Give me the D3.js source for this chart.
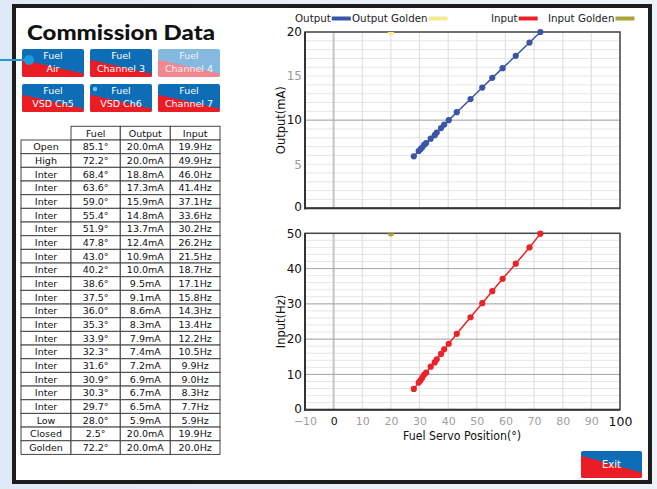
<!DOCTYPE html>
<html>
<head>
<meta charset="utf-8">
<script src="https://cdn.jsdelivr.net/npm/d3@7"></script>
<style>
  html, body { margin: 0; padding: 0; background: #fff; }
  svg { display: block; font-family: "DejaVu Sans", sans-serif; }
</style>
</head>
<body>
<svg width="657" height="489"></svg>
<script>
// ---- data ----
var rowLabels = ["Open","High","Inter","Inter","Inter","Inter","Inter","Inter","Inter","Inter","Inter","Inter",
                 "Inter","Inter","Inter","Inter","Inter","Inter","Inter","Inter","Low","Closed","Golden"];
var fuelPos  = [85.1,72.2,68.4,63.6,59.0,55.4,51.9,47.8,43.0,40.2,38.6,37.5,36.0,35.3,33.9,32.3,31.6,30.9,30.3,29.7,28.0,2.5,72.2];
var outputMA = [20.0,20.0,18.8,17.3,15.9,14.8,13.7,12.4,10.9,10.0,9.5,9.1,8.6,8.3,7.9,7.4,7.2,6.9,6.7,6.5,5.9,20.0,20.0];
var inputHz  = [19.9,49.9,46.0,41.4,37.1,33.6,30.2,26.2,21.5,18.7,17.1,15.8,14.3,13.4,12.2,10.5,9.9,9.0,8.3,7.7,5.9,19.9,20.0];
var headers  = ["Fuel","Output","Input"];

var goldenX = 20, goldenOutput = 20, goldenInput = 50;   // golden markers as plotted

var buttons = [
  { l1: "Fuel", l2: "Air" }, { l1: "Fuel", l2: "Channel 3" }, { l1: "Fuel", l2: "Channel 4", faded: true },
  { l1: "Fuel", l2: "VSD Ch5" }, { l1: "Fuel", l2: "VSD Ch6" }, { l1: "Fuel", l2: "Channel 7" }
];
var legendItems = [
  { name: "Output", color: "#3b55a6", x: 295 }, { name: "Output Golden", color: "#f3ec8c", x: 352 },
  { name: "Input", color: "#ec2229", x: 491 }, { name: "Input Golden", color: "#aaa43a", x: 548 }
];
var xTicks = [-10,0,10,20,30,40,50,60,70,80,90,100];

var blue = "#0e6db7", red = "#ec1c24";

var svg = d3.select("svg");

// ---- background + frame ----
var defs = svg.append("defs");
var bg = defs.append("linearGradient").attr("id", "bg").attr("x1", 0).attr("x2", 1).attr("y1", 0).attr("y2", 0);
bg.append("stop").attr("offset", "0%").attr("stop-color", "#dfe9f5");
bg.append("stop").attr("offset", "100%").attr("stop-color", "#eef3f9");
svg.append("rect").attr("width", 657).attr("height", 489).attr("fill", "url(#bg)");
svg.append("rect").attr("x", 14).attr("y", 6).attr("width", 636).attr("height", 476)
  .attr("fill", "#fff").attr("stroke", "#1d1d1d").attr("stroke-width", 4);

// ---- title ----
svg.append("text").attr("x", 27).attr("y", 40).text("Commission Data")
  .style("font-family", "Lato, sans-serif").style("font-weight", 900).style("font-size", "21px")
  .attr("textLength", 188).attr("lengthAdjust", "spacingAndGlyphs").attr("fill", "#111");

// ---- channel buttons ----
function drawButton(g, x, y, w, h, a, b, cBlue, cRed) {
  g.append("rect").attr("x", x).attr("y", y).attr("width", w).attr("height", h).attr("rx", 2).attr("fill", cBlue);
  g.append("path").attr("d", "M" + x + "," + (y + h * a) + "L" + (x + w) + "," + (y + h * b) +
      "L" + (x + w) + "," + (y + h - 2) + "Q" + (x + w) + "," + (y + h) + " " + (x + w - 2) + "," + (y + h) +
      "L" + (x + 2) + "," + (y + h) + "Q" + x + "," + (y + h) + " " + x + "," + (y + h - 2) + "Z")
    .attr("fill", cRed);
}
buttons.forEach(function(d, i) {
  var bx = 22 + (i % 3) * 68, by = 49 + Math.floor(i / 3) * 35;
  var g = svg.append("g");
  drawButton(g, bx, by, 62, 28, 0.38, 0.88, d.faded ? "#86b9e0" : blue, d.faded ? "#f2878d" : red);
  g.append("text").attr("x", bx + 31).attr("y", by + 10).attr("text-anchor", "middle")
    .attr("fill", d.faded ? "#eef4fa" : "#fff").style("font-size", "9.5px").text(d.l1);
  g.append("text").attr("x", bx + 31).attr("y", by + 23).attr("text-anchor", "middle")
    .attr("fill", d.faded ? "#eef4fa" : "#fff").style("font-size", "9.5px").text(d.l2);
});
// selection marker on Fuel/Air and small dot on VSD Ch6
svg.append("line").attr("x1", 0).attr("x2", 27).attr("y1", 60).attr("y2", 60).attr("stroke", "#1a9ad9").attr("stroke-width", 2);
svg.append("circle").attr("cx", 29).attr("cy", 60).attr("r", 5).attr("fill", "#1a9ad9");
svg.append("circle").attr("cx", 95).attr("cy", 89).attr("r", 2.2).attr("fill", "#6cc6e6");

// ---- table ----
var colX = [21, 71, 120.3, 170.3, 220];
var rowH = 13.67, headTop = 126.3, bodyTop = 140;
var tbl = svg.append("g").style("font-size", "9.5px").attr("fill", "#111");
headers.forEach(function(h, j) {
  tbl.append("rect").attr("x", colX[j + 1]).attr("y", headTop).attr("width", colX[j + 2] - colX[j + 1]).attr("height", bodyTop - headTop)
    .attr("fill", "#fff").attr("stroke", "#444").attr("stroke-width", 1);
  tbl.append("text").attr("x", (colX[j + 1] + colX[j + 2]) / 2).attr("y", headTop + 10.5).attr("text-anchor", "middle").text(h);
});
rowLabels.forEach(function(lab, i) {
  var cells = [lab, fuelPos[i].toFixed(1) + "°", outputMA[i].toFixed(1) + "mA", inputHz[i].toFixed(1) + "Hz"];
  var ry = bodyTop + i * rowH;
  cells.forEach(function(c, j) {
    tbl.append("rect").attr("x", colX[j]).attr("y", ry).attr("width", colX[j + 1] - colX[j]).attr("height", rowH)
      .attr("fill", "#fff").attr("stroke", "#444").attr("stroke-width", 1);
    tbl.append("text").attr("x", (colX[j] + colX[j + 1]) / 2).attr("y", ry + 10.3).attr("text-anchor", "middle").text(c);
  });
});

// ---- legend ----
var lg = svg.append("g").style("font-size", "10.3px").attr("fill", "#222");
legendItems.forEach(function(d) {
  var t = lg.append("text").attr("x", d.x).attr("y", 22).text(d.name);
  var w = t.node().getComputedTextLength();
  lg.append("rect").attr("x", d.x + w + 1).attr("y", 16.5).attr("width", 19).attr("height", 4).attr("fill", d.color);
});

// ---- charts ----
var x = d3.scaleLinear().domain([-10, 100]).range([305, 620]);
var plotted = d3.range(1, 21);   // High .. Low

function chart(opts) {
  var y = d3.scaleLinear().domain([0, opts.max]).range([opts.bottom, opts.top]);
  var g = svg.append("g");
  // minor horizontal grid
  g.selectAll(".minor").data(d3.range(0, opts.max + 0.001, opts.minor)).join("line")
    .attr("x1", x(-10)).attr("x2", x(100)).attr("y1", function(d) { return y(d); }).attr("y2", function(d) { return y(d); })
    .attr("stroke", "#e6e6e6").attr("stroke-width", 1);
  // vertical grid
  g.selectAll(".vg").data(xTicks).join("line")
    .attr("x1", function(d) { return x(d); }).attr("x2", function(d) { return x(d); })
    .attr("y1", opts.top).attr("y2", opts.bottom)
    .attr("stroke", function(d) { return d === 0 ? "#c4c4c4" : "#e0e0e0"; })
    .attr("stroke-width", function(d) { return d === 0 ? 2 : 1.2; });
  // major horizontal grid
  g.selectAll(".major").data(d3.range(opts.major, opts.max, opts.major)).join("line")
    .attr("x1", x(-10)).attr("x2", x(100)).attr("y1", function(d) { return y(d); }).attr("y2", function(d) { return y(d); })
    .attr("stroke", "#a8a8a8").attr("stroke-width", 1);

  // y axis
  var ya = g.append("g").attr("transform", "translate(" + x(-10) + ",0)")
    .call(d3.axisLeft(y).tickValues(opts.ticks).tickSize(0).tickPadding(3));
  ya.select(".domain").remove();
  ya.selectAll("text").style("font-family", "DejaVu Sans, sans-serif").style("font-size", "12px")
    .attr("dy", function(d) { return d === 0 ? "0.2em" : "0.32em"; })
    .attr("fill", function(d) { return d % opts.major === 0 ? "#111" : "#999"; });

  // box
  g.append("rect").attr("x", x(-10)).attr("y", opts.top).attr("width", x(100) - x(-10)).attr("height", opts.bottom - opts.top)
    .attr("fill", "none").attr("stroke", "#444").attr("stroke-width", 1.5);
  g.append("line").attr("x1", x(-10)).attr("x2", x(-10)).attr("y1", opts.top).attr("y2", opts.bottom + 1).attr("stroke", "#333").attr("stroke-width", 2);
  g.append("line").attr("x1", x(-10) - 1).attr("x2", x(100)).attr("y1", opts.bottom).attr("y2", opts.bottom).attr("stroke", "#333").attr("stroke-width", 2);

  // y title
  g.append("text").attr("transform", "translate(285," + ((opts.top + opts.bottom) / 2) + ") rotate(-90)")
    .attr("text-anchor", "middle").style("font-size", "11.5px").attr("fill", "#111").text(opts.title);

  // golden marker (clipped to plot)
  var cid = "clip" + Math.round(opts.top);
  defs.append("clipPath").attr("id", cid).append("rect")
    .attr("x", x(-10)).attr("y", opts.top).attr("width", x(100) - x(-10)).attr("height", opts.bottom - opts.top);
  g.append("circle").attr("clip-path", "url(#" + cid + ")")
    .attr("cx", x(goldenX)).attr("cy", y(opts.golden)).attr("r", 3.2).attr("fill", opts.goldenColor);

  // series
  var pts = plotted.map(function(i) { return [fuelPos[i], opts.values[i]]; });
  g.append("path").datum(pts).attr("fill", "none").attr("stroke", opts.color).attr("stroke-width", 1.5)
    .attr("d", d3.line().x(function(d) { return x(d[0]); }).y(function(d) { return y(d[1]); }));
  g.selectAll(".pt").data(pts).join("circle")
    .attr("cx", function(d) { return x(d[0]); }).attr("cy", function(d) { return y(d[1]); })
    .attr("r", 3.1).attr("fill", opts.color);
  return g;
}

chart({ top: 32, bottom: 208.3, max: 20, minor: 1, major: 10, ticks: [0, 5, 10, 15, 20],
        values: outputMA, color: "#3b55a6", golden: goldenOutput, goldenColor: "#f3ec8c", title: "Output(mA)" });
chart({ top: 233.3, bottom: 409.7, max: 50, minor: 2, major: 10, ticks: [0, 10, 20, 30, 40, 50],
        values: inputHz, color: "#ec2229", golden: goldenInput, goldenColor: "#aaa43a", title: "Input(Hz)" });

// x axis labels
var xa = svg.append("g").attr("transform", "translate(0,409.7)")
  .call(d3.axisBottom(x).tickValues(xTicks).tickSize(0).tickPadding(7.5).tickFormat(function(d) { return d < 0 ? "\u221210" : d; }));
xa.select(".domain").remove();
xa.selectAll("text").style("font-family", "DejaVu Sans, sans-serif")
  .style("font-size", function(d) { return d === 100 ? "12.5px" : "11px"; })
  .attr("fill", function(d) { return (d === 0 || d === 100) ? "#111" : "#a0a0a0"; });

svg.append("text").attr("x", 462).attr("y", 440).attr("text-anchor", "middle")
  .style("font-size", "12px").attr("textLength", 118).attr("lengthAdjust", "spacingAndGlyphs")
  .attr("fill", "#111").text("Fuel Servo Position(°)");

// ---- exit button ----
var ex = svg.append("g");
drawButton(ex, 581, 451, 61, 27, 0.18, 0.81, blue, red);
ex.append("text").attr("x", 611.5).attr("y", 468).attr("text-anchor", "middle").attr("fill", "#fff")
  .style("font-size", "10px").text("Exit");
</script>
</body>
</html>
